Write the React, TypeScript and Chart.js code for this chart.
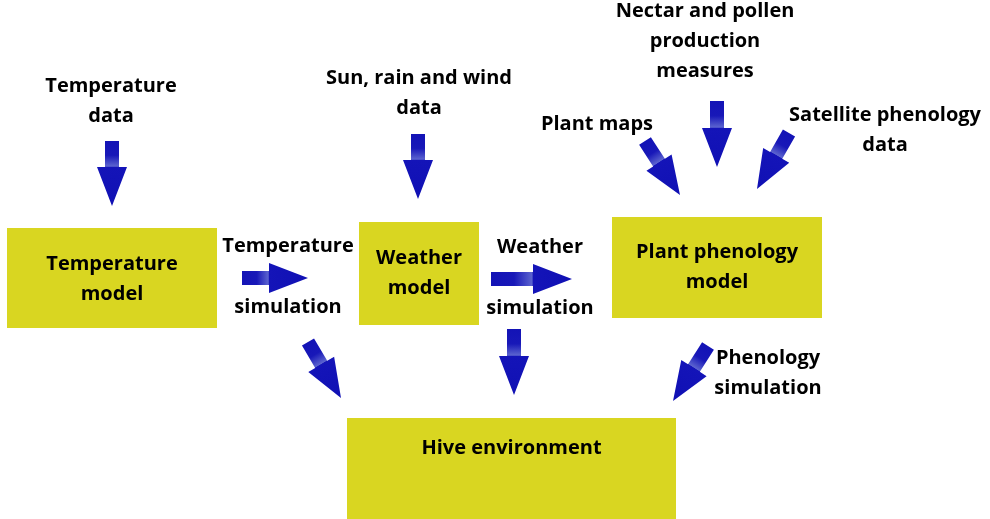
import React, { useEffect, useRef } from "react";
import { Chart, registerables } from "chart.js";

Chart.register(...registerables);

// Diagram content (in diagram units: x 0..990, y 0..519, y downwards)
const boxLabels = [
  ["Temperature", "model"],
  ["Weather", "model"],
  ["Plant phenology", "model"],
  ["Hive environment"],
];
const boxLeft = [7, 359, 612, 347];
const boxTop = [228, 222, 217, 418];
const boxRight = [217, 479, 822, 676];
const boxBottom = [328, 325, 318, 519];
const boxTextY = [264, 258, 252, 448];

const freeLabels = [
  ["Temperature", "data"],
  ["Sun, rain and wind", "data"],
  ["Nectar and pollen", "production", "measures"],
  ["Plant maps"],
  ["Satellite phenology", "data"],
  ["Temperature"],
  ["simulation"],
  ["Weather"],
  ["simulation"],
  ["Phenology", "simulation"],
];
const freeX = [111, 419, 705, 597, 885, 288, 288, 540, 540, 768];
const freeY = [86, 78, 11, 124, 115, 246, 307, 247, 308, 358];

const arrowTailX = [112, 418, 242, 491, 717, 645, 789, 308, 514, 708];
const arrowTailY = [141, 134, 278, 279, 101, 141, 133, 342, 329, 346];
const arrowTipX = [112, 418, 308, 572, 717, 680, 757, 341, 514, 673];
const arrowTipY = [206, 199, 278, 279, 167, 195, 189, 398, 395, 401];

const BOX_COLOR = "#d9d621";
const FONT = "bold 20px 'Open Sans', Lato, sans-serif";
const LINE_H = 30;

const diagramPlugin = {
  id: "diagram",
  afterDraw(chart: any) {
    const ctx = chart.ctx as CanvasRenderingContext2D;
    const xs = chart.scales.x;
    const ys = chart.scales.y;
    const px = (v: number) => xs.getPixelForValue(v);
    const py = (v: number) => ys.getPixelForValue(v);
    ctx.save();

    // boxes
    for (let i = 0; i < boxLabels.length; i++) {
      const l = px(boxLeft[i]);
      const t = py(boxTop[i]);
      const r = px(boxRight[i]);
      const b = py(boxBottom[i]);
      ctx.fillStyle = BOX_COLOR;
      ctx.fillRect(l, t, r - l, b - t);
      ctx.fillStyle = "#000";
      ctx.font = FONT;
      ctx.textAlign = "center";
      ctx.textBaseline = "middle";
      const cx = (l + r) / 2;
      boxLabels[i].forEach((line, k) => {
        ctx.fillText(line, cx, py(boxTextY[i]) + k * LINE_H);
      });
    }

    // free labels
    ctx.fillStyle = "#000";
    ctx.font = FONT;
    ctx.textAlign = "center";
    ctx.textBaseline = "middle";
    for (let i = 0; i < freeLabels.length; i++) {
      freeLabels[i].forEach((line, k) => {
        ctx.fillText(line, px(freeX[i]), py(freeY[i]) + k * LINE_H);
      });
    }

    // arrows
    for (let i = 0; i < arrowTailX.length; i++) {
      const x0 = px(arrowTailX[i]);
      const y0 = py(arrowTailY[i]);
      const x1 = px(arrowTipX[i]);
      const y1 = py(arrowTipY[i]);
      const dx = x1 - x0;
      const dy = y1 - y0;
      const len = Math.hypot(dx, dy);
      const ang = Math.atan2(dy, dx);
      const headLen = Math.min(39, len * 0.6);
      const shaftW = 14;
      const headW = 30;
      const hs = len - headLen;
      ctx.save();
      ctx.translate(x0, y0);
      ctx.rotate(ang);
      const g = ctx.createLinearGradient(0, 0, len, 0);
      const f = hs / len;
      g.addColorStop(0, "#1313b6");
      g.addColorStop(Math.max(0, f * 0.55), "#1818b8");
      g.addColorStop(Math.max(0, f - 0.01), "#5c64cf");
      g.addColorStop(f, "#1414b8");
      g.addColorStop(1, "#1010b4");
      ctx.fillStyle = g;
      ctx.beginPath();
      ctx.moveTo(0, -shaftW / 2);
      ctx.lineTo(hs, -shaftW / 2);
      ctx.lineTo(hs, -headW / 2);
      ctx.lineTo(len, 0);
      ctx.lineTo(hs, headW / 2);
      ctx.lineTo(hs, shaftW / 2);
      ctx.lineTo(0, shaftW / 2);
      ctx.closePath();
      ctx.fill();
      ctx.restore();
    }
    ctx.restore();
  },
};

export default function App() {
  const ref = useRef<HTMLCanvasElement | null>(null);
  useEffect(() => {
    document.body.style.margin = "0";
    const canvas = ref.current;
    if (!canvas) return;
    const chart = new Chart(canvas, {
      type: "scatter",
      data: {
        datasets: [
          {
            data: boxLeft.map((x, i) => ({ x: (x + boxRight[i]) / 2, y: boxTextY[i] })),
            pointRadius: 0,
            showLine: false,
          },
        ],
      },
      options: {
        animation: false,
        responsive: true,
        maintainAspectRatio: false,
        layout: { padding: 0 },
        plugins: { legend: { display: false }, tooltip: { enabled: false } },
        events: [],
        scales: {
          x: { type: "linear", min: 0, max: 990, display: false },
          y: { type: "linear", min: 0, max: 519, reverse: true, display: false },
        },
      },
      plugins: [diagramPlugin],
    });
    return () => chart.destroy();
  }, []);
  return (
    <div style={{ width: 990, height: 519, position: "relative", background: "#fff" }}>
      <canvas ref={ref} />
    </div>
  );
}
